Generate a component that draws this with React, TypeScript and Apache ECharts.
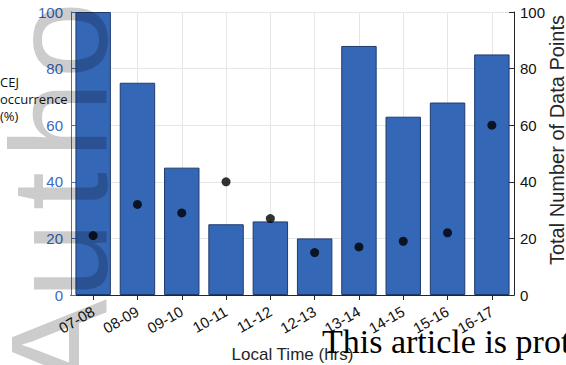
import React, { useEffect, useRef } from "react";
import * as echarts from "echarts";

const categories = ["07-08", "08-09", "09-10", "10-11", "11-12", "12-13", "13-14", "14-15", "15-16", "16-17"];
const occurrence = [100, 75, 45, 25, 26, 20, 88, 63, 68, 85];
const dataPoints = [21, 32, 29, 40, 27, 15, 17, 19, 22, 60];
const yTicks = [0, 20, 40, 60, 80, 100];

const watermarkLetters = ["A", "u", "t", "h", "o", "r"];
const watermarkCenters = [345, 260, 191, 120, 40, -38];

export default function App() {
  const ref = useRef<HTMLDivElement>(null);
  useEffect(() => {
    const chart = echarts.init(ref.current!, null, { renderer: "svg" });
    const blue = "#3567b7";
    const axisBlue = "#4472c4";
    const dark = "#262626";
    chart.setOption({
      animation: false,
      backgroundColor: "#ffffff",
      textStyle: { fontFamily: "Liberation Sans" },
      grid: { left: 71, right: 52, top: 12, bottom: 70, outerBoundsMode: "none", containLabel: false },
      xAxis: [
        {
          type: "category",
          data: categories,
          position: "bottom",
          name: "Local Time (hrs)",
          nameLocation: "middle",
          nameGap: 51,
          nameTextStyle: { fontSize: 17, color: dark },
          axisLine: { show: true, lineStyle: { color: dark, width: 1 } },
          axisTick: { show: true, inside: true, alignWithLabel: true, length: 5, lineStyle: { color: dark } },
          axisLabel: { rotate: 30, fontSize: 15, color: "#111", margin: 15 },
          splitLine: { show: true, alignWithLabel: true, lineStyle: { color: "#e6e6e6", width: 1 } },
        },
        {
          type: "category",
          data: categories,
          position: "top",
          axisLine: { show: true, lineStyle: { color: dark, width: 1 } },
          axisTick: { show: true, inside: true, alignWithLabel: true, length: 5, lineStyle: { color: dark } },
          axisLabel: { show: false },
          splitLine: { show: false },
        },
      ],
      yAxis: [
        {
          type: "value",
          min: yTicks[0],
          max: yTicks[yTicks.length - 1],
          interval: 20,
          position: "left",
          axisLine: { show: true, lineStyle: { color: axisBlue, width: 1 } },
          axisTick: { show: true, inside: true, length: 5, lineStyle: { color: axisBlue } },
          axisLabel: { fontSize: 15, color: "#3a69bd", margin: 8 },
          splitLine: { show: true, lineStyle: { color: "#e6e6e6", width: 1 } },
        },
        {
          type: "value",
          min: yTicks[0],
          max: yTicks[yTicks.length - 1],
          interval: 20,
          position: "right",
          axisLine: { show: true, lineStyle: { color: dark, width: 1 } },
          axisTick: { show: true, inside: true, length: 5, lineStyle: { color: dark } },
          axisLabel: { fontSize: 15, color: "#111", margin: 6 },
          splitLine: { show: false },
        },
      ],
      series: [
        {
          type: "bar",
          data: occurrence,
          xAxisIndex: 0,
          yAxisIndex: 0,
          barCategoryGap: "20%",
          z: 2,
          itemStyle: { color: blue, borderColor: "#1f3b6e", borderWidth: 1 },
        },
        {
          type: "scatter",
          data: dataPoints,
          xAxisIndex: 0,
          yAxisIndex: 1,
          symbol: "circle",
          symbolSize: 9,
          z: 3,
          itemStyle: { color: "#000000" },
        },
      ],
      graphic: [
        ...watermarkLetters.map((ch, i) => ({
          type: "text",
          x: 59,
          y: watermarkCenters[i],
          rotation: Math.PI / 2,
          z: 100,
          silent: true,
          style: {
            text: ch,
            font: '138px "Liberation Sans"',
            fill: "rgba(0,0,0,0.2)",
            textAlign: "center",
            textVerticalAlign: "middle",
          },
        })),
        {
          type: "text",
          x: 557,
          y: 140,
          rotation: Math.PI / 2,
          z: 50,
          style: {
            text: "Total Number of Data Points",
            font: '20px "Liberation Sans"',
            fill: dark,
            textAlign: "center",
            textVerticalAlign: "middle",
          },
        },
        {
          type: "text",
          left: 0,
          top: 73,
          z: 110,
          style: {
            text: "CEJ\noccurrence\n(%)",
            font: '13px "Open Sans"',
            lineHeight: 17,
            fill: "#111",
          },
        },
        {
          type: "text",
          x: 322,
          y: 341,
          z: 100,
          silent: true,
          style: {
            text: "This article is protected by copyright",
            font: '34px "Liberation Serif"',
            fill: "#000",
            textAlign: "left",
            textVerticalAlign: "middle",
          },
        },
      ],
    });
    return () => chart.dispose();
  }, []);
  return <div ref={ref} style={{ width: 566, height: 365, position: "absolute", left: 0, top: 0 }} />;
}
